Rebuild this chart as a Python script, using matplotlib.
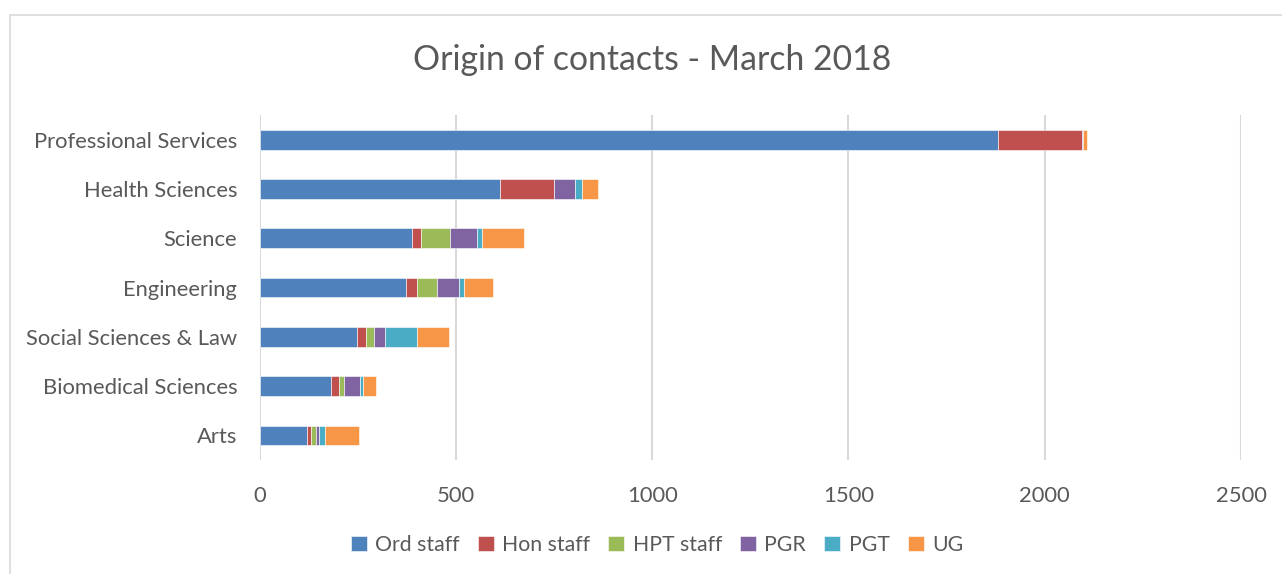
import matplotlib
matplotlib.use("Agg")
import matplotlib.pyplot as plt
from matplotlib.patches import Rectangle
import numpy as np

categories = ["Professional Services", "Health Sciences", "Science", "Engineering",
              "Social Sciences & Law", "Biomedical Sciences", "Arts"]
series_names = ["Ord staff", "Hon staff", "HPT staff", "PGR", "PGT", "UG"]
ord_staff = [1882, 612, 388, 372, 249, 183, 120]
hon_staff = [212, 137, 23, 29, 23, 20, 11]
hpt_staff = [0, 0, 75, 52, 20, 12, 12]
pgr = [4, 54, 69, 56, 28, 42, 9]
pgt = [0, 19, 11, 13, 82, 7, 16]
ug = [11, 41, 107, 73, 80, 32, 86]
x_ticks = [0, 500, 1000, 1500, 2000, 2500]
title = "Origin of contacts - March 2018"

colors = ["#4F81BD", "#C0504D", "#9BBB59", "#8064A2", "#4BACC6", "#F79646"]
text_color = "#595959"
plt.rcParams["font.family"] = ["Lato", "DejaVu Sans"]

fig = plt.figure(figsize=(12.82, 5.74), dpi=100)
fig.patches.append(Rectangle((10 / 1282, -0.01), 1.02, 1 - 15 / 574 + 0.01,
                             transform=fig.transFigure, fill=False,
                             edgecolor="#D9D9D9", linewidth=1.2))
ax = fig.add_axes([259.5 / 1282, 1 - 460 / 574, (1241 - 259.5) / 1282, (460 - 115) / 574])

y = np.arange(len(categories))
left = np.zeros(len(categories))
for name, vals, c in zip(series_names,
                         [ord_staff, hon_staff, hpt_staff, pgr, pgt, ug], colors):
    ax.barh(y, vals, left=left, height=0.4, color=c, label=name,
            edgecolor="white", linewidth=0.4, zorder=3)
    left += np.array(vals)

ax.set_ylim(len(categories) - 0.5, -0.5)
ax.set_xlim(0, 2500)
ax.set_xticks(x_ticks)
ax.set_yticks(y)
ax.set_yticklabels(categories)
ax.grid(axis="x", color="#D9D9D9", linewidth=1.5, zorder=0)
ax.set_axisbelow(True)
for s in ax.spines.values():
    s.set_visible(False)
ax.tick_params(axis="both", length=0, labelsize=15.8, colors=text_color)
ax.tick_params(axis="x", pad=19)
ax.tick_params(axis="y", pad=16)

fig.text(652 / 1282, 1 - 60 / 574, title, ha="center", va="center",
         fontsize=24.3, color=text_color)

handles, labels = ax.get_legend_handles_labels()
fig.legend(handles, labels, loc="center", bbox_to_anchor=(657 / 1282, 1 - 545 / 574),
           ncol=6, frameon=False, fontsize=15.3, labelcolor=text_color,
           handlelength=0.75, handleheight=0.75, handletextpad=0.4, columnspacing=0.85)

fig.savefig("out.png", dpi=100)
